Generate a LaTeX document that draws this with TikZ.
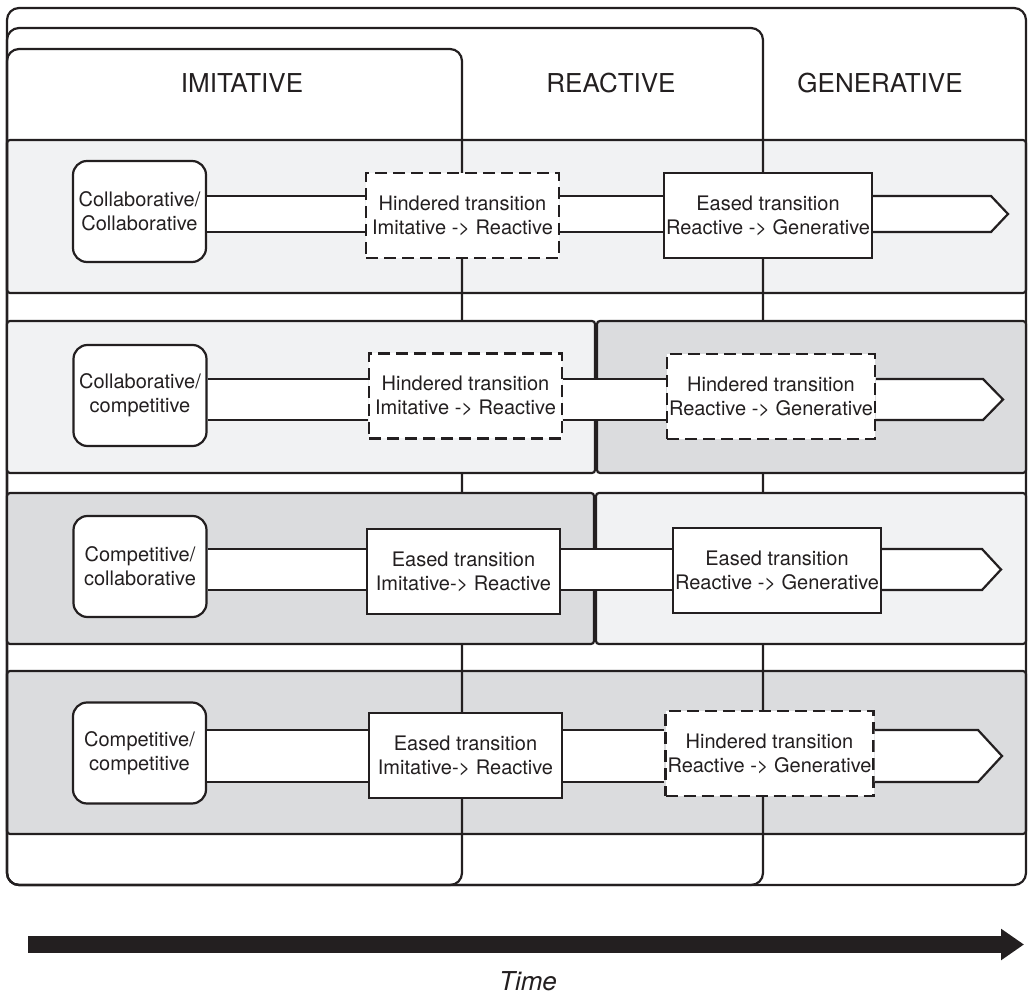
\documentclass[tikz,border=0pt]{standalone}
\usepackage{fontspec}
\setmainfont{TeX Gyre Heros}
\usepackage{tikz}
\usetikzlibrary{arrows.meta}
\usetikzlibrary{calc}
\definecolor{ink}{HTML}{231F20}
\definecolor{lightband}{HTML}{F1F2F3}
\definecolor{darkband}{HTML}{DBDCDE}
\newcommand{\boxfont}{\fontsize{10}{12}\selectfont}
\newcommand{\headfont}{\fontsize{13}{15}\selectfont}
% white tube between two nodes, #3/#4 = top/bottom y
\newcommand{\tube}[4]{%
  \fill[white] (#1.east |- 0,#3) rectangle (#2.west |- 0,#4);
  \draw (#1.east |- 0,#3) -- (#2.west |- 0,#3) (#1.east |- 0,#4) -- (#2.west |- 0,#4);}
% last piece of the tube, ending in a point at #2
\newcommand{\tubeend}[5]{%
  \draw[fill=white] (#1.east |- 0,#3) -- ($(#2 |- 0,#3)+(-#5,0)$) -- (#2)
    -- ($(#2 |- 0,#4)+(-#5,0)$) -- (#1.east |- 0,#4);}

\begin{document}
\begin{tikzpicture}[x=0.5pt,y=-0.5pt,line width=1.1pt,draw=ink,text=ink,
    start node/.style={draw,fill=white,rounded corners=7pt,minimum width=66.5pt,minimum height=50.5pt,inner sep=1pt,align=center,font=\boxfont},
    eased node/.style={draw,fill=white,minimum height=42.5pt,inner xsep=0.5pt,align=center,font=\boxfont},
    hindered node/.style={eased node,dash pattern=on 6pt off 3pt},
    narrow/.style={minimum width=96.5pt}, wide/.style={minimum width=104pt},
    head node/.style={font=\headfont}]
  \useasboundingbox (0,0) rectangle (1028,994);
  % rows 1 and 4 lie under the column lines
  \draw[fill=lightband,rounded corners=1.5pt] (7,140) rectangle (1026,293);
  \draw[fill=darkband,rounded corners=1.5pt] (7,671) rectangle (1026,834);
  % columns
  \draw[rounded corners=6pt] (7,8) rectangle (1026,885);
  \draw[rounded corners=6pt] (7,28) rectangle (763,885);
  \draw[rounded corners=6pt] (7,49) rectangle (462,885);
  % rows 2 and 3
  \draw[fill=lightband,rounded corners=1.5pt] (7,321) rectangle (595,473);
  \draw[fill=darkband,rounded corners=1.5pt] (597,321) rectangle (1026,473);
  \draw[fill=darkband,rounded corners=1.5pt] (7,493) rectangle (594,644);
  \draw[fill=lightband,rounded corners=1.5pt] (596,493) rectangle (1026,644);
  % headers
  \node[head node] (imit) at (242,83) {IMITATIVE};
  \node[head node] (react) at (611,83) {REACTIVE};
  \node[head node] (gen) at (880,83) {GENERATIVE};
  % row 1
  \node[start node] (s1) at (139.5,211.5) {Collaborative/\\Collaborative};
  \node[hindered node,narrow] (a1) at (462.5,215.5) {Hindered transition\\Imitative -> Reactive};
  \node[eased node,wide] (b1) at (768,215.5) {Eased transition\\Reactive -> Generative};
  \coordinate (t1) at (1008,214);
  % row 2
  \node[start node] (s2) at (140,395.5) {Collaborative/\\competitive};
  \node[hindered node,narrow] (a2) at (465.5,396) {Hindered transition\\Imitative -> Reactive};
  \node[hindered node,wide] (b2) at (771,396.5) {Hindered transition\\Reactive -> Generative};
  \coordinate (t2) at (1003,399.5);
  % row 3
  \node[start node] (s3) at (140,566.5) {Competitive/\\collaborative};
  \node[eased node,narrow] (a3) at (463.5,571.5) {Eased transition\\Imitative-> Reactive};
  \node[eased node,wide] (b3) at (777,570.5) {Eased transition\\Reactive -> Generative};
  \coordinate (t3) at (1001,569.5);
  % row 4
  \node[start node] (s4) at (139.5,753) {Competitive/\\competitive};
  \node[eased node,narrow] (a4) at (465.5,755.5) {Eased transition\\Imitative-> Reactive};
  \node[hindered node,wide] (b4) at (769.5,753.5) {Hindered transition\\Reactive -> Generative};
  \coordinate (t4) at (1002,756);
  % tubes
  \tube{s1}{a1}{196}{232} \tube{a1}{b1}{196}{232} \tubeend{b1}{t1}{196}{232}{17}
  \tube{s2}{a2}{379}{420} \tube{a2}{b2}{379}{420} \tubeend{b2}{t2}{379}{420}{20}
  \tube{s3}{a3}{549}{590} \tube{a3}{b3}{549}{590} \tubeend{b3}{t3}{549}{590}{19}
  \tube{s4}{a4}{730}{782} \tube{a4}{b4}{730}{782} \tubeend{b4}{t4}{730}{782}{24}
  % time axis
  \coordinate (ts) at (28,944.5);
  \coordinate (te) at (1024,944.5);
  \draw[draw=ink,line width=8.5pt,-{Triangle[length=11.5pt,width=15pt]}] (ts) -- (te);
  \node[font=\headfont\itshape] (time) at (528,981) {Time};
\end{tikzpicture}
\end{document}
